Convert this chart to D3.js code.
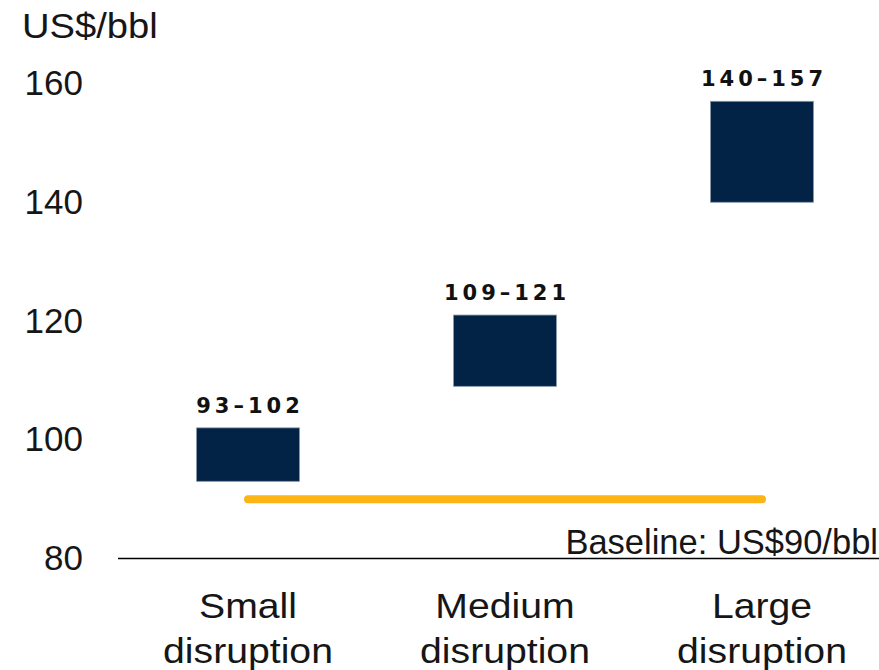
<!DOCTYPE html>
<html>
<head>
<meta charset="utf-8">
<script src="https://cdn.jsdelivr.net/npm/d3@7"></script>
<style>
  html, body { margin: 0; padding: 0; background: #fff; }
  svg { display: block; }
</style>
</head>
<body>
<svg id="chart" width="879" height="670"></svg>
<script>
// ---- data ----
const categories = [["Small", "disruption"], ["Medium", "disruption"], ["Large", "disruption"]];
const lowValues = [93, 109, 140];
const highValues = [102, 121, 157];
const rangeLabels = ["93\u2013102", "109\u2013121", "140\u2013157"];
const yTicks = [80, 100, 120, 140, 160];
const baselineValue = 90;
const unitLabel = "US$/bbl";
const baselineLabel = "Baseline: US$90/bbl";

// ---- layout ----
const W = 879, H = 670;
const svg = d3.select("#chart");
const keys = categories.map(c => c.join(" "));

const x = d3.scaleBand()
  .domain(keys)
  .range([119.5, 890.5])
  .paddingInner(0.6)
  .paddingOuter(0.3);

const y = d3.scaleLinear()
  .domain([80, 160])
  .range([558.5, 83.5]);

const textColor = "#161616";
const barColor = "#022345";
const orange = "#FDB515";

// unit label
svg.append("text")
  .attr("transform", "translate(22,38) scale(1.09,1)")
  .attr("font-family", "Liberation Sans, Arial, sans-serif")
  .attr("font-size", 35)
  .attr("fill", textColor)
  .text(unitLabel);

// y axis (labels only)
const yAxis = d3.axisLeft(y).tickValues(yTicks).tickSize(0).tickPadding(0);
const gy = svg.append("g").attr("transform", "translate(83,0)").call(yAxis);
gy.select(".domain").remove();
gy.selectAll("text")
  .attr("font-family", "Liberation Sans, Arial, sans-serif")
  .attr("font-size", 35)
  .attr("fill", textColor);

// x axis line
svg.append("line")
  .attr("x1", 118).attr("x2", W)
  .attr("y1", y(80)).attr("y2", y(80))
  .attr("stroke", "#000").attr("stroke-width", 1.6);

// baseline label
svg.append("text")
  .attr("x", 878).attr("y", 554)
  .attr("text-anchor", "end")
  .attr("font-family", "Liberation Sans, Arial, sans-serif")
  .attr("font-size", 34.5)
  .attr("fill", textColor)
  .text(baselineLabel);

// orange baseline
svg.append("line")
  .attr("x1", x(keys[0]) + x.bandwidth() / 2)
  .attr("x2", x(keys[keys.length - 1]) + x.bandwidth() / 2)
  .attr("y1", y(baselineValue)).attr("y2", y(baselineValue))
  .attr("stroke", orange).attr("stroke-width", 8)
  .attr("stroke-linecap", "round");

// bars
svg.append("g").selectAll("rect")
  .data(keys)
  .join("rect")
  .attr("x", d => x(d))
  .attr("width", x.bandwidth())
  .attr("y", (d, i) => y(highValues[i]))
  .attr("height", (d, i) => y(lowValues[i]) - y(highValues[i]))
  .attr("fill", barColor)
  .attr("stroke", "#8594a8")
  .attr("stroke-width", 0.8);

// range labels
svg.append("g").selectAll("text")
  .data(keys)
  .join("text")
  .attr("x", d => x(d) + x.bandwidth() / 2 + 2)
  .attr("y", (d, i) => y(highValues[i]) - 15)
  .attr("text-anchor", "middle")
  .attr("font-family", "DejaVu Sans, sans-serif")
  .attr("font-weight", "bold")
  .attr("font-size", 21)
  .attr("letter-spacing", 4)
  .attr("fill", "#111")
  .text((d, i) => rangeLabels[i]);

// category labels
const cg = svg.append("g").selectAll("g")
  .data(categories)
  .join("g")
  .attr("transform", (d, i) => `translate(${x(keys[i]) + x.bandwidth() / 2},0) scale(1.12,1)`);
cg.selectAll("text")
  .data(d => d)
  .join("text")
  .attr("x", 0)
  .attr("y", (d, j) => 618 + j * 45)
  .attr("text-anchor", "middle")
  .attr("font-family", "Liberation Sans, Arial, sans-serif")
  .attr("font-size", 35)
  .attr("fill", textColor)
  .text(d => d);
</script>
</body>
</html>
